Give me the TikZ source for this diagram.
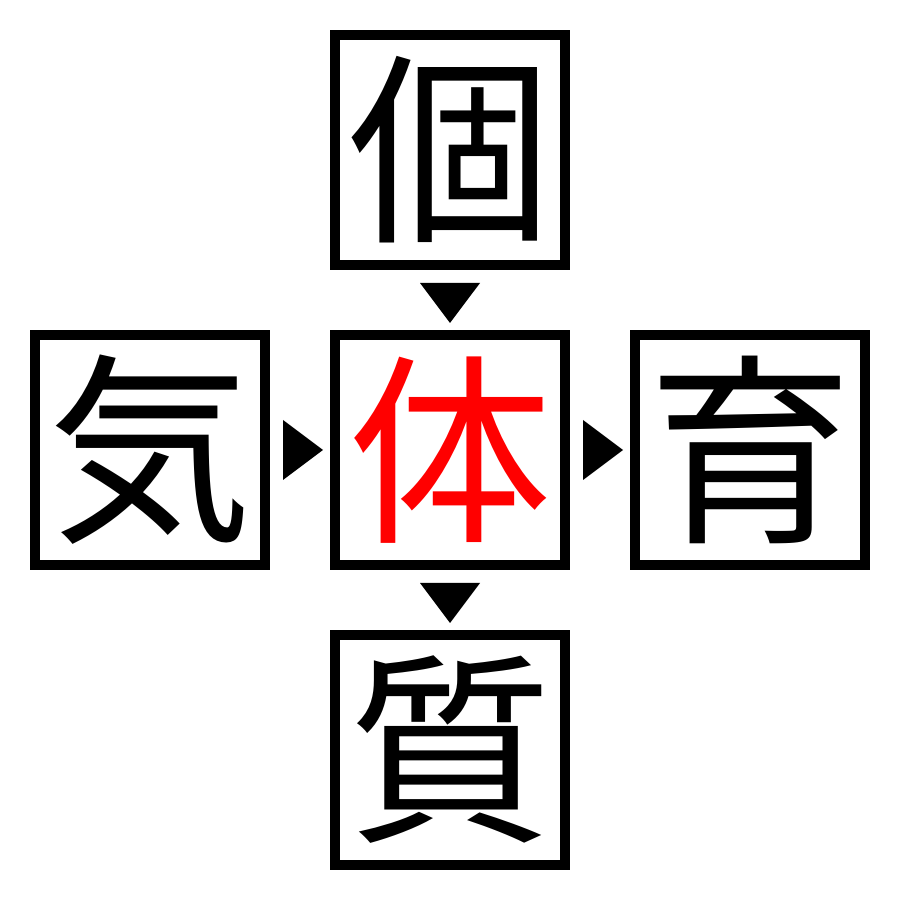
\documentclass[tikz,border=0pt]{standalone}
\usepackage{fontspec}
\setmainfont{Noto Sans CJK JP}
\usetikzlibrary{positioning,calc}

\begin{document}
\begin{tikzpicture}[auto, node distance=0.6cm,
    kanji/.style={rectangle, draw, line width=1mm, minimum size=2.3cm, inner sep=0pt,
      font=\fontsize{58}{58}\selectfont}]
  \useasboundingbox (0,0) rectangle (9,9);
  \node (mid) at (4.5,4.5) [kanji, text=red] {体};
  \node (top) [above=of mid, kanji] {個};
  \node (lft) [left=of mid, kanji] {気};
  \node (rgt) [right=of mid, kanji] {育};
  \node (bot) [below=of mid, kanji] {質};
  % triangles between the boxes
  \coordinate (tm) at ($(top.south)!0.5!(mid.north)$);
  \coordinate (mb) at ($(mid.south)!0.5!(bot.north)$);
  \coordinate (lm) at ($(lft.east)!0.5!(mid.west)$);
  \coordinate (mr) at ($(mid.east)!0.5!(rgt.west)$);
  \fill (tm) ++(-0.3,0.17) -- ++(0.6,0) -- ++(-0.3,-0.4) -- cycle;
  \fill (mb) ++(-0.3,0.17) -- ++(0.6,0) -- ++(-0.3,-0.4) -- cycle;
  \fill (lm) ++(-0.17,0.3) -- ++(0,-0.6) -- ++(0.4,0.3) -- cycle;
  \fill (mr) ++(-0.17,0.3) -- ++(0,-0.6) -- ++(0.4,0.3) -- cycle;
\end{tikzpicture}
\end{document}
